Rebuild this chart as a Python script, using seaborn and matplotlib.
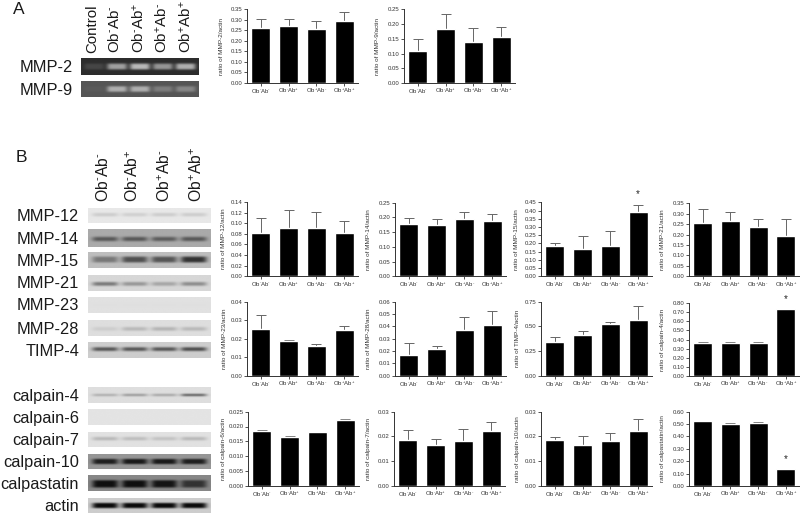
import matplotlib
matplotlib.use('Agg')
import matplotlib.pyplot as plt
import numpy as np
import seaborn as sns

W, H = 800, 514

groups = ['Ob$^{\u2010}$Ab$^{\u2010}$', 'Ob$^{\u2010}$Ab$^{+}$', 'Ob$^{+}$Ab$^{\u2010}$', 'Ob$^{+}$Ab$^{+}$']

# bar heights and top of the error bar
mmp2 = [0.26, 0.27, 0.255, 0.296]
mmp2_top = [0.303, 0.304, 0.293, 0.336]
mmp9 = [0.108, 0.182, 0.14, 0.156]
mmp9_top = [0.149, 0.233, 0.188, 0.191]
mmp12 = [0.081, 0.091, 0.091, 0.081]
mmp12_top = [0.110, 0.125, 0.122, 0.104]
mmp14 = [0.178, 0.174, 0.193, 0.187]
mmp14_top = [0.198, 0.194, 0.218, 0.211]
mmp15 = [0.183, 0.165, 0.185, 0.393]
mmp15_top = [0.205, 0.243, 0.278, 0.436]
mmp21 = [0.254, 0.264, 0.238, 0.193]
mmp21_top = [0.325, 0.306, 0.276, 0.274]
mmp23 = [0.025, 0.019, 0.0163, 0.0245]
mmp23_top = [0.033, 0.0195, 0.0173, 0.0267]
mmp28 = [0.0165, 0.0218, 0.0372, 0.0413]
mmp28_top = [0.0265, 0.0243, 0.0475, 0.0525]
timp4 = [0.345, 0.415, 0.52, 0.56]
timp4_top = [0.395, 0.455, 0.54, 0.705]
calp4 = [0.365, 0.365, 0.365, 0.73]
calp4_top = [0.368, 0.368, 0.368, 0.735]
calp6 = [0.0185, 0.0165, 0.0181, 0.0223]
calp6_top = [0.0187, 0.0167, 0.0183, 0.0225]
calp7 = [0.0185, 0.0166, 0.0181, 0.0223]
calp7_top = [0.0225, 0.019, 0.0228, 0.0258]
calp10 = [0.0185, 0.0166, 0.0181, 0.0223]
calp10_top = [0.0197, 0.02, 0.0213, 0.0272]
calpast = [0.525, 0.50, 0.505, 0.135]
calpast_top = [0.528, 0.505, 0.515, 0.138]

# name, values, tops, tick step, n steps, decimals, left, right, top, bottom (px), label offset, star
panels = [
    ('MMP-2', mmp2, mmp2_top, 0.05, 7, 2, 247, 358, 9.3, 83, 23, None),
    ('MMP-9', mmp9, mmp9_top, 0.05, 5, 2, 404, 515, 9.3, 83, 24, None),
    ('MMP-12', mmp12, mmp12_top, 0.02, 7, 2, 247, 358, 202, 276.3, 21, None),
    ('MMP-14', mmp14, mmp14_top, 0.05, 5, 2, 395, 506, 202.7, 276.3, 24, None),
    ('MMP-15', mmp15, mmp15_top, 0.05, 9, 2, 541, 652, 202.3, 276.3, 22, 0.499),
    ('MMP-21', mmp21, mmp21_top, 0.05, 7, 2, 689, 799.5, 203.3, 276.3, 24, None),
    ('MMP-23', mmp23, mmp23_top, 0.01, 4, 2, 247, 358, 301.7, 375.7, 20, None),
    ('MMP-28', mmp28, mmp28_top, 0.01, 6, 2, 395, 506, 301.7, 375.7, 24, None),
    ('TIMP-4', timp4, timp4_top, 0.25, 3, 2, 541, 652, 301.7, 375.7, 21, None),
    ('calpain-4', calp4, calp4_top, 0.10, 8, 2, 689, 799.5, 303, 376, 24, 0.847),
    ('calpain-6', calp6, calp6_top, 0.005, 5, 3, 248, 359, 411.7, 485.7, 22, None),
    ('calpain-7', calp7, calp7_top, 0.01, 3, 2, 394, 505, 411.7, 485.7, 23, None),
    ('calpain-10', calp10, calp10_top, 0.01, 3, 2, 541, 652, 411.7, 485.7, 21, None),
    ('calpastatin', calpast, calpast_top, 0.10, 6, 2, 689, 799.5, 411.7, 486, 24, 0.218),
]

# blots: label, background grey, band grey per lane, band rows (of 9), top, bottom (px)
blots_a = [
    ('MMP-2', 45, [70, 160, 185, 150, 175], (3, 6), 58, 75),
    ('MMP-9', 85, [90, 175, 175, 125, 135], (3, 6), 81, 97),
]
blots_b = [
    ('MMP-12', 232, [205, 208, 205, 205], (3, 5), 208, 223),
    ('MMP-14', 170, [85, 85, 90, 85], (4, 6), 229, 247),
    ('MMP-15', 190, [120, 80, 85, 50], (3, 6), 252, 268),
    ('MMP-21', 215, [120, 150, 165, 140], (4, 6), 275, 291),
    ('MMP-23', 225, [222, 222, 222, 222], (4, 5), 297, 313),
    ('MMP-28', 222, [205, 185, 180, 185], (4, 6), 320, 336),
    ('TIMP-4', 205, [85, 85, 85, 75], (3, 5), 342, 358),
    ('calpain-4', 222, [160, 135, 150, 60], (4, 5), 387, 403),
    ('calpain-6', 228, [228, 228, 228, 228], (4, 5), 409, 425),
    ('calpain-7', 225, [185, 190, 195, 185], (3, 5), 432, 447),
    ('calpain-10', 150, [30, 25, 25, 30], (3, 6), 454, 469),
    ('calpastatin', 135, [15, 15, 20, 50], (3, 7), 475, 491),
    ('actin', 205, [10, 10, 10, 10], (3, 6), 498, 513),
]

sns.set_style('ticks')
plt.rcParams['font.family'] = ['Liberation Sans', 'DejaVu Sans']
plt.rcParams['mathtext.fontset'] = 'custom'
plt.rcParams['mathtext.rm'] = 'Liberation Sans'
plt.rcParams['mathtext.default'] = 'regular'

fig = plt.figure(figsize=(W / 100, H / 100), dpi=100)


def px_axes(left, right, top, bottom):
    return fig.add_axes([left / W, 1 - bottom / H, (right - left) / W, (bottom - top) / H])


def px_text(x, y, s, **kw):
    fig.text(x / W, 1 - y / H, s, color='#1a1a1a', **kw)


def draw_blot(left, right, top, bottom, bg, lanes, rows):
    ax = px_axes(left, right, top, bottom)
    n_col = 6 * len(lanes) + 1
    img = np.full((9, n_col), float(bg))
    for i, val in enumerate(lanes):
        img[rows[0]:rows[1], 6 * i + 1:6 * i + 6] = val
    ax.imshow(img, cmap='gray', vmin=0, vmax=255, aspect='auto', interpolation='bicubic')
    ax.axis('off')


for name, vals, tops, step, n, dec, left, right, top, bottom, off, star in panels:
    ax = px_axes(left, right, top, bottom)
    sns.barplot(x=groups, y=vals, color='black', saturation=1, width=0.69, ax=ax)
    up = np.array(tops) - np.array(vals)
    # errorbar under the bars, only the upper half shows
    ax.errorbar(range(4), vals, yerr=[np.zeros(4), up], fmt='none', ecolor='#666666',
                elinewidth=0.7, capsize=3.5, capthick=0.7, zorder=0.5)
    ax.set_xlim(-0.5, 3.5)
    ax.set_ylim(0, step * n)
    ticks = [step * i for i in range(n + 1)]
    ax.set_yticks(ticks)
    ax.set_yticklabels([f'{t:.{dec}f}' for t in ticks])
    ax.tick_params(labelsize=4.3, length=2, width=0.6, pad=1, colors='#333333')
    ax.set_ylabel(f'ratio of {name}/actin', fontsize=4.6, color='#333333')
    ax.yaxis.set_label_coords(-off / (right - left), 0.5)
    for sp in ['left', 'bottom']:
        ax.spines[sp].set_linewidth(0.7)
        ax.spines[sp].set_color('#333333')
    sns.despine(ax=ax)
    if star is not None:
        ax.text(3, star, '*', ha='center', va='center', fontsize=7, clip_on=False)

# panel A blots
for label, bg, lanes, rows, top, bottom in blots_a:
    draw_blot(80.7, 198, top, bottom, bg, lanes, rows)
    px_text(73, (top + bottom) / 2 + 1.5, label, fontsize=11.8, ha='right', va='center')
for x, label in zip([92, 115, 139, 162, 186], ['Control'] + groups):
    px_text(x, 53, label, fontsize=10.8, rotation=90, ha='center', va='bottom')

# panel B blots
for label, bg, lanes, rows, top, bottom in blots_b:
    draw_blot(88, 211, top, bottom, bg, lanes, rows)
    px_text(79, (top + bottom) / 2 + 1, label, fontsize=11.8, ha='right', va='center')
for x, label in zip([103, 133, 165, 197], groups):
    px_text(x, 202, label, fontsize=11.3, rotation=90, ha='center', va='bottom')

px_text(13, 14, 'A', fontsize=12.5, ha='left', va='baseline')
px_text(16, 162, 'B', fontsize=12.5, ha='left', va='baseline')

fig.savefig('out.png', dpi=100)
